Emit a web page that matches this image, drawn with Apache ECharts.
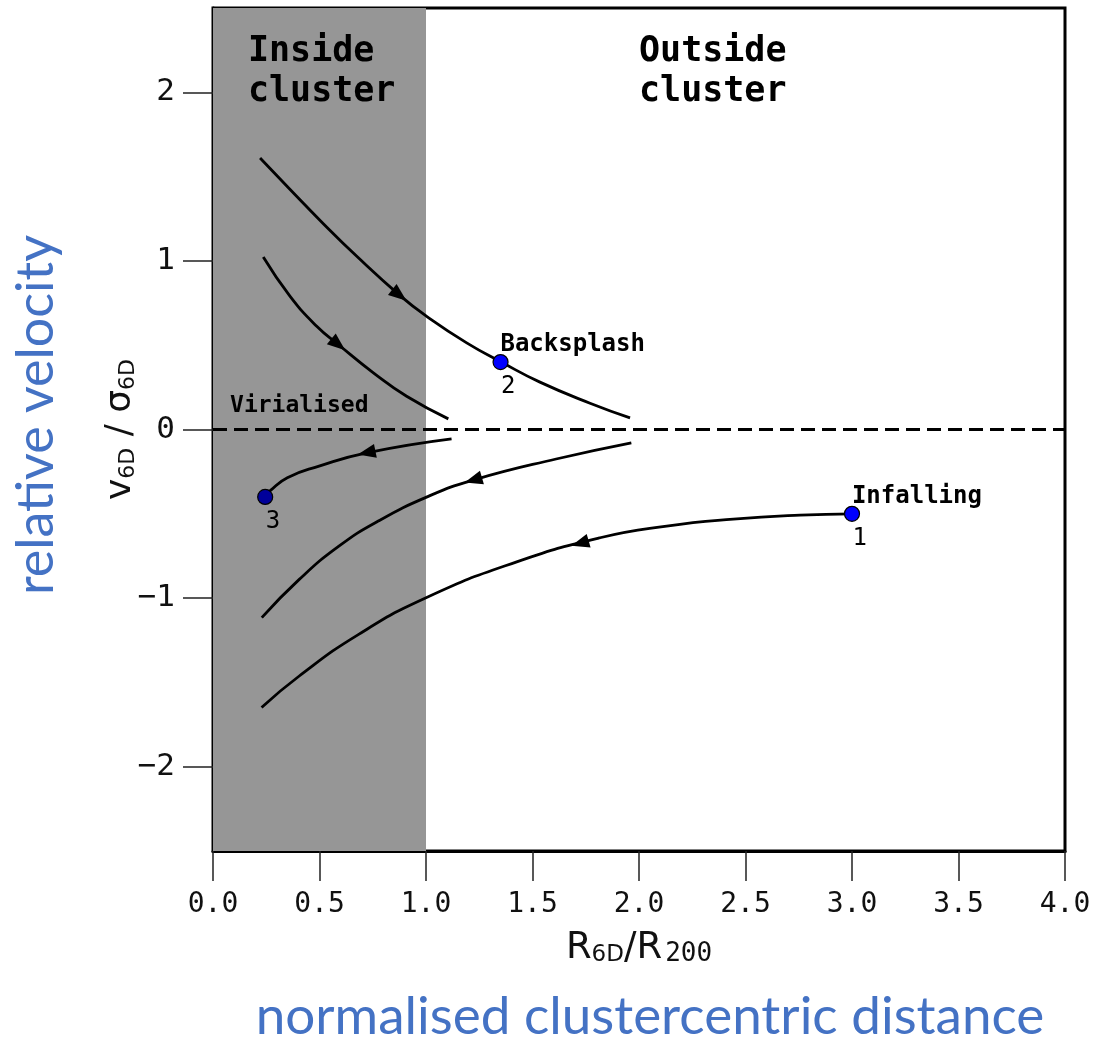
<!DOCTYPE html>
<html><head><meta charset="utf-8">
<script src="https://cdn.jsdelivr.net/npm/echarts@6/dist/echarts.min.js"></script>
<style>html,body{margin:0;padding:0;background:#fff}#c{width:1096px;height:1042px}</style>
</head><body><div id="c"></div>
<script>
// ---- data ----
const xTickValues = [0, 0.5, 1, 1.5, 2, 2.5, 3, 3.5, 4];
const yTickValues = [-2, -1, 0, 1, 2];
const insideRange = [0, 1];
const zeroLine = [[0, 0], [4, 0]];
// tracks listed in direction of motion
const trackBacksplashHigh = [[0.221,1.610],[0.362,1.424],[0.518,1.221],[0.675,1.027],[0.878,0.794],[1.003,0.671],[1.191,0.514],[1.355,0.399],[1.535,0.281],[1.770,0.156],[1.958,0.069]];
const trackBacksplashLow  = [[0.236,1.023],[0.362,0.790],[0.487,0.612],[0.588,0.504],[0.753,0.336],[0.909,0.197],[1.105,0.063]];
const trackVirialised     = [[1.120,-0.055],[0.721,-0.138],[0.498,-0.217],[0.349,-0.286],[0.266,-0.366],[0.242,-0.395]];
const trackInfallingMid   = [[1.964,-0.079],[1.611,-0.175],[1.222,-0.300],[1.008,-0.398],[0.776,-0.543],[0.591,-0.692],[0.405,-0.889],[0.229,-1.116]];
const trackInfallingFar   = [[3.0,-0.5],[2.756,-0.508],[2.443,-0.532],[2.130,-0.573],[1.817,-0.642],[1.426,-0.785],[1.008,-0.993],[0.684,-1.215],[0.405,-1.462],[0.228,-1.649]];
const tracks = [trackBacksplashHigh, trackBacksplashLow, trackVirialised, trackInfallingMid, trackInfallingFar];
const arrowPoints = [[0.875,0.797],[0.588,0.504],[0.721,-0.138],[1.222,-0.300],[1.723,-0.675]];
const stagePoints = [[3.0,-0.5],[1.35,0.4],[0.245,-0.4]];
const stageNames = ['Infalling', 'Backsplash', ''];
const stageNumbers = ['1', '2', '3'];
const regionTexts = ['Inside\ncluster', 'Outside\ncluster', 'Virialised'];

// ---- chart ----
const chart = echarts.init(document.getElementById('c'), null, {renderer: 'canvas'});
const mono = 'DejaVu Sans Mono';
const sans = 'DejaVu Sans';
const ink = '#000';

const trackSeries = tracks.map(t => ({
  type: 'line', data: t, smooth: 0.5, symbol: 'none', z: 3,
  lineStyle: {color: ink, width: 2.8}, silent: true
}));

function buildOption(rotations) {
  return {
    animation: false,
    backgroundColor: '#fff',
    grid: {left: 213, right: 31, top: 8, bottom: 191, show: true, borderColor: '#000', borderWidth: 3, backgroundColor: 'transparent'},
    xAxis: {
      type: 'value', min: 0, max: 4, interval: 0.5,
      splitLine: {show: false},
      axisLine: {show: true, onZero: false, lineStyle: {color: '#000', width: 3}},
      axisTick: {show: true, inside: false, length: 30, lineStyle: {color: '#222', width: 1.5}, customValues: xTickValues},
      axisLabel: {margin: 40, fontFamily: mono, fontSize: 28, color: '#111', customValues: xTickValues,
                  formatter: v => v.toFixed(1)},
      name: '{m|R}{s|6D}{m|/R}{t|200}',
      nameLocation: 'middle', nameGap: 72, nameMoveOverlap: false,
      nameTextStyle: {verticalAlign: 'top', rich: {
        m: {fontFamily: sans, fontSize: 37, color: '#111', verticalAlign: 'bottom', lineHeight: 44},
        s: {fontFamily: sans, fontSize: 23, color: '#111', verticalAlign: 'bottom', lineHeight: 24},
        t: {fontFamily: mono, fontSize: 26, color: '#111', verticalAlign: 'bottom', lineHeight: 26, padding: [0, 0, 0, 3]}
      }}
    },
    yAxis: {
      type: 'value', min: -2.5, max: 2.5, interval: 0.5,
      splitLine: {show: false},
      axisLine: {show: true, onZero: false, lineStyle: {color: '#000', width: 3}},
      axisTick: {show: true, inside: false, length: 30, lineStyle: {color: '#222', width: 1.5}, customValues: yTickValues},
      axisLabel: {margin: 38, fontFamily: mono, fontSize: 31, color: '#111', customValues: yTickValues,
                  formatter: v => String(v).replace('-', '\u2212')},
      name: '{m|v}{s|6D}{m| / σ}{s|6D}',
      nameLocation: 'middle', nameGap: 74, nameRotate: 90, nameMoveOverlap: false,
      nameTextStyle: {verticalAlign: 'bottom', rich: {
        m: {fontFamily: sans, fontSize: 36, color: '#111', verticalAlign: 'bottom', lineHeight: 44},
        s: {fontFamily: sans, fontSize: 22, color: '#111', verticalAlign: 'bottom', lineHeight: 24}
      }}
    },
    series: [
      {type: 'line', data: zeroLine, symbol: 'none', z: 2, silent: true,
       lineStyle: {color: ink, width: 3, type: [14, 7]},
       markArea: {silent: true, itemStyle: {color: '#969696', opacity: 1},
         data: [[{xAxis: insideRange[0]}, {xAxis: insideRange[1]}]]}},
      ...trackSeries,
      {type: 'scatter', data: arrowPoints.map((p, i) => ({value: p, symbolRotate: rotations[i]})),
       symbol: 'triangle', symbolSize: [14, 18], z: 4, silent: true,
       itemStyle: {color: ink, opacity: 1}},
      {type: 'scatter', data: stagePoints.map((p, i) => ({value: p,
          itemStyle: {color: i === 2 ? '#00009a' : '#0000ff', borderColor: '#000', borderWidth: 1.2, opacity: 1}})),
       symbolSize: 15, z: 5, silent: true,
       label: {show: true, position: [8, 3], align: 'left', verticalAlign: 'bottom',
         fontFamily: mono, fontWeight: 'bold', fontSize: 24, color: ink, opacity: 1,
         formatter: p => stageNames[p.dataIndex]}},
      {type: 'scatter', data: stagePoints, symbolSize: 15, z: 5, silent: true,
       itemStyle: {color: 'transparent', borderWidth: 0},
       label: {show: true, position: [8, 20], align: 'left', verticalAlign: 'top',
         fontFamily: mono, fontSize: 24, color: ink, opacity: 1,
         formatter: p => stageNumbers[p.dataIndex]}},
      {type: 'scatter', z: 6, silent: true, symbolSize: 1, itemStyle: {color: 'transparent'},
       data: [[0.164, 2.358], [2.0, 2.358]],
       label: {show: true, position: 'inside', align: 'left', verticalAlign: 'top',
         fontFamily: mono, fontWeight: 'bold', fontSize: 35, lineHeight: 40, color: ink, opacity: 1,
         formatter: p => regionTexts[p.dataIndex]}},
      {type: 'scatter', z: 6, silent: true, symbolSize: 1, itemStyle: {color: 'transparent'},
       data: [[0.08, 0.07]],
       label: {show: true, position: 'inside', align: 'left', verticalAlign: 'bottom',
         fontFamily: mono, fontWeight: 'bold', fontSize: 23, color: ink, opacity: 1,
         formatter: () => regionTexts[2]}}
    ]
  };
}

chart.setOption(buildOption(arrowPoints.map(() => 0)));

// arrow rotations from the local direction of each track, in pixel space
const rotations = arrowPoints.map((a, k) => {
  const t = tracks[k];
  let seg = 0, best = Infinity;
  for (let i = 0; i < t.length - 1; i++) {
    const mx = (t[i][0] + t[i+1][0]) / 2, my = (t[i][1] + t[i+1][1]) / 2;
    const d = Math.hypot(mx - a[0], my - a[1]);
    if (d < best) { best = d; seg = i; }
  }
  let i0 = seg, i1 = seg + 1;
  t.forEach((p, i) => { if (Math.hypot(p[0]-a[0], p[1]-a[1]) < 1e-3) { i0 = Math.max(0, i-1); i1 = Math.min(t.length-1, i+1); } });
  const p0 = chart.convertToPixel({gridIndex: 0}, t[i0]);
  const p1 = chart.convertToPixel({gridIndex: 0}, t[i1]);
  const ang = Math.atan2(-(p1[1]-p0[1]), p1[0]-p0[0]) * 180 / Math.PI;
  return ang - 90;
});
const opt = buildOption(rotations);
opt.graphic = [
  {type: 'text', x: 650, y: 1017, z: 10, style: {text: 'normalised clustercentric distance',
    font: '53px Lato', fill: '#4472C4', align: 'center', verticalAlign: 'middle'}},
  {type: 'text', x: 36, y: 415, rotation: Math.PI / 2, z: 10, style: {text: 'relative velocity',
    font: '52px Lato', fill: '#4472C4', align: 'center', verticalAlign: 'middle'}}
];
chart.setOption(opt);
</script></body></html>
